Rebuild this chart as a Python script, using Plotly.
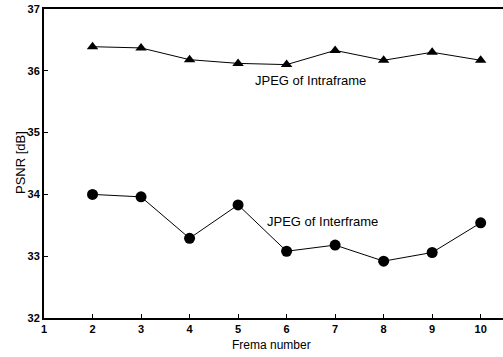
import plotly.graph_objects as go

frames = [2, 3, 4, 5, 6, 7, 8, 9, 10]
intra_psnr = [36.39, 36.37, 36.18, 36.12, 36.10, 36.33, 36.17, 36.30, 36.17]
inter_psnr = [34.00, 33.96, 33.29, 33.83, 33.08, 33.18, 32.92, 33.06, 33.54]
x_ticks = [1, 2, 3, 4, 5, 6, 7, 8, 9, 10]
y_ticks = [32, 33, 34, 35, 36, 37]

FONT = "Liberation Sans, Arial"

fig = go.Figure()
fig.add_trace(go.Scatter(x=frames, y=intra_psnr, mode="lines+markers",
                         line=dict(color="black", width=1),
                         marker=dict(symbol="triangle-up", size=10, color="black"),
                         showlegend=False))
fig.add_trace(go.Scatter(x=frames, y=inter_psnr, mode="lines+markers",
                         line=dict(color="black", width=1),
                         marker=dict(symbol="circle", size=11, color="black"),
                         showlegend=False))

fig.add_annotation(x=6.5, y=35.84, text="JPEG of Intraframe", showarrow=False,
                   font=dict(family=FONT, size=13, color="black"))
fig.add_annotation(x=6.75, y=33.56, text="JPEG of Interframe", showarrow=False,
                   font=dict(family=FONT, size=13, color="black"))

# axis titles
fig.add_annotation(xref="paper", yref="paper", x=(271 - 44) / 459, y=(318 - 345) / 309,
                   text="Frema number", showarrow=False, xanchor="center", yanchor="middle",
                   font=dict(family=FONT, size=12, color="black"))
fig.add_annotation(xref="paper", yref="paper", x=(20 - 44) / 459, y=(318 - 163) / 309,
                   text="PSNR [dB]", showarrow=False, textangle=-90,
                   xanchor="center", yanchor="middle",
                   font=dict(family=FONT, size=13, color="black"))

fig.update_layout(
    width=503, height=357,
    margin=dict(l=44, r=0, t=9, b=39, autoexpand=False),
    plot_bgcolor="white", paper_bgcolor="white",
    font=dict(family=FONT, color="black", size=11),
)
fig.update_xaxes(range=[1, 10.46], tickvals=x_ticks, ticktext=[str(v) for v in x_ticks],
                 showgrid=False, zeroline=False, showline=True, linecolor="black", linewidth=2,
                 mirror=True, ticks="inside", ticklen=4, tickcolor="black", automargin=False,
                 tickfont=dict(size=11, family=FONT, weight="bold"))
fig.update_yaxes(range=[32, 37], tickvals=y_ticks, ticktext=[str(v) for v in y_ticks],
                 showgrid=False, zeroline=False, showline=True, linecolor="black", linewidth=2,
                 mirror=False, ticks="inside", ticklen=4, tickcolor="black", automargin=False,
                 tickfont=dict(size=11, family=FONT, weight="bold"))

fig.write_html("out.html", config={"displayModeBar": False},
               post_script="document.body.style.margin='0';document.body.style.overflow='hidden';")
